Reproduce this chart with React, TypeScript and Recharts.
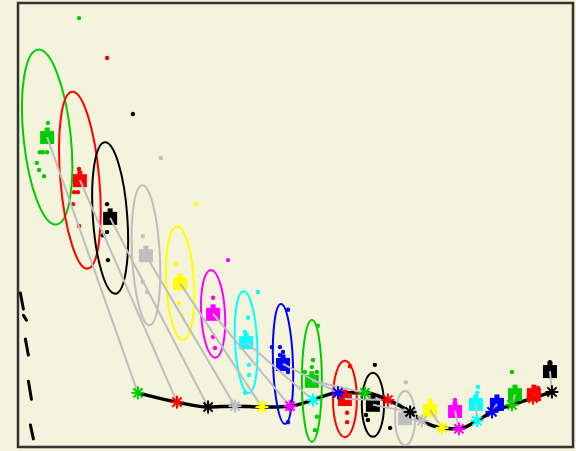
import { ComposedChart, XAxis, YAxis, Scatter, Line, ReferenceArea } from 'recharts';

// colours cycle green3, red, black, gray, yellow, magenta, cyan, blue
const PALETTE = ['#00cd00', '#ff0000', '#000000', '#bebebe', '#ffff00', '#ff00ff', '#00ffff', '#0000ff'];

// group means (the squares)
const meanX = [1.05, 2.23, 3.32, 4.61, 5.84, 7.03, 8.22, 9.55, 10.59, 11.78, 12.79, 13.95, 14.85, 15.75, 16.5, 17.26, 17.91, 18.59, 19.17];
const meanY = [69.8, 60.1, 51.6, 43.2, 36.9, 30.0, 23.6, 18.7, 14.9, 10.8, 9.5, 6.5, 8.3, 8.1, 9.7, 9.7, 11.9, 11.9, 17.1];

// fitted values on the black curve (the stars)
const fitX = [4.32, 5.73, 6.85, 7.82, 8.79, 9.8, 10.63, 11.53, 12.5, 13.33, 14.13, 14.56, 15.28, 15.89, 16.54, 17.08, 17.8, 18.56, 19.24];
const fitY = [12.2, 10.1, 9.0, 9.2, 9.0, 9.2, 10.6, 12.2, 12.2, 10.6, 7.9, 5.9, 4.3, 4.1, 5.9, 7.9, 9.5, 11.0, 12.4];

// spread ellipses (only the first 12 groups have one)
const spreadX = [0.85, 0.7, 0.62, 0.5, 0.5, 0.43, 0.4, 0.36, 0.36, 0.43, 0.4, 0.36];
const spreadY = [19.8, 20.0, 17.1, 15.8, 12.8, 9.9, 11.5, 13.5, 13.7, 8.6, 7.2, 6.1];
const tilt = [-6, -5, -4, -3, -3, -3, -3, -2, 0, 0, 0, 0];

// raw observations per group
const groupPoints: [number, number][][] = [
  [[2.2, 96.6], [1.08, 73.0], [0.79, 66.4], [0.9, 66.4], [1.05, 66.4], [0.68, 64.0], [0.76, 62.4], [0.94, 61.0]],
  [[3.21, 87.6], [2.2, 62.6], [2.02, 57.4], [2.16, 57.4], [1.98, 54.7], [2.2, 49.8]],
  [[4.14, 75.0], [3.21, 54.7], [3.21, 48.4], [3.06, 47.7], [3.24, 42.1]],
  [[5.15, 65.1], [4.5, 47.5], [4.5, 37.2], [4.65, 34.9]],
  [[6.41, 54.7], [5.69, 41.2], [5.8, 32.4], [5.91, 29.7]],
  [[7.57, 42.1], [7.03, 33.6], [7.03, 24.8], [7.1, 22.3]],
  [[8.65, 34.9], [8.29, 29.1], [8.18, 25.9], [8.32, 18.5], [8.32, 16.2], [8.18, 12.2]],
  [[9.73, 30.9], [9.15, 22.5], [9.44, 22.5], [9.55, 21.4], [9.44, 20.7], [9.73, 16.9], [9.73, 8.8], [9.73, 5.6]],
  [[10.81, 27.3], [10.63, 19.6], [10.59, 18.0], [10.34, 16.9], [10.77, 16.9], [10.7, 10.6], [10.77, 6.8], [10.7, 3.8]],
  [[11.96, 18.2], [11.5, 12.2], [11.86, 7.7], [11.86, 5.6]],
  [[12.86, 18.5], [12.54, 7.2], [12.61, 6.1], [13.41, 4.3]],
  [[13.98, 14.6], [13.87, 5.6]],
  [[14.85, 10.6]],
  [[15.75, 10.6]],
  [[16.58, 13.5], [16.54, 12.2]],
  [[17.08, 10.6]],
  [[17.8, 16.9]],
  [[18.74, 13.3]],
  [[19.17, 19.1]],
];

// clipped label fragments along the left edge
const edgeX = [0.14, 0.25, 0.32, 0.43, 0.5];
const edgeY = [32.9, 29.1, 22.5, 12.8, 3.4];
const edgeLen = [16, 5, 16, 18, 14];

const W = 576;
const H = 451;
const M = { top: 3, right: 3, bottom: 4, left: 18 };
const X_MAX = 20;
const Y_MAX = 100;
const PX_X = (W - M.left - M.right) / X_MAX;
const PX_Y = (H - M.top - M.bottom) / Y_MAX;

const colorOf = (i: number) => PALETTE[i % PALETTE.length];

const ellipses = spreadX.map((rx, i) => ({ x: meanX[i], y: meanY[i], rx, ry: spreadY[i], tilt: tilt[i], color: colorOf(i) }));
const means = meanX.map((x, i) => ({ x, y: meanY[i], color: colorOf(i) }));
const fits = fitX.map((x, i) => ({ x, y: fitY[i], color: colorOf(i) }));
const points = groupPoints.flatMap((g, i) => g.map(([x, y]) => ({ x, y, color: colorOf(i) })));
const edgeMarks = edgeX.map((x, i) => ({ x, y: edgeY[i], len: edgeLen[i] }));

const EllipseShape = (p: any) => {
  const { cx, cy, payload } = p;
  return (
    <ellipse
      cx={cx}
      cy={cy}
      rx={payload.rx * PX_X}
      ry={payload.ry * PX_Y}
      transform={`rotate(${payload.tilt} ${cx} ${cy})`}
      fill="none"
      stroke={payload.color}
      strokeWidth={2}
    />
  );
};

const DotShape = (p: any) => <circle cx={p.cx} cy={p.cy} r={2.2} fill={p.payload.color} />;

const SquareShape = (p: any) => (
  <g>
    <rect x={p.cx - 7} y={p.cy - 6} width={14} height={13} fill={p.payload.color} />
    <rect x={p.cx - 2.5} y={p.cy - 9.5} width={5} height={4} fill={p.payload.color} />
  </g>
);

const StarShape = (p: any) => {
  const { cx, cy } = p;
  const c = p.payload.color;
  const r = 6.5;
  const d = 4.6;
  return (
    <g stroke={c} strokeWidth={2}>
      <line x1={cx - r} y1={cy} x2={cx + r} y2={cy} />
      <line x1={cx} y1={cy - r} x2={cx} y2={cy + r} />
      <line x1={cx - d} y1={cy - d} x2={cx + d} y2={cy + d} />
      <line x1={cx - d} y1={cy + d} x2={cx + d} y2={cy - d} />
    </g>
  );
};

const EdgeShape = (p: any) => {
  const { cx, cy, payload } = p;
  const h = payload.len / 2;
  return <line x1={cx - 1.5} y1={cy - h} x2={cx + 1.5} y2={cy + h} stroke="#000" strokeWidth={3} strokeLinecap="round" />;
};

const Empty = () => <g />;

export default function App() {
  return (
    <div style={{ position: 'absolute', left: 0, top: 0, width: W, height: H, background: '#f4f3dc' }}>
      <ComposedChart width={W} height={H} margin={M}>
        <XAxis type="number" dataKey="x" domain={[0, X_MAX]} allowDataOverflow hide />
        <YAxis type="number" dataKey="y" domain={[0, Y_MAX]} allowDataOverflow hide />
        <Scatter data={edgeMarks} shape={EdgeShape} isAnimationActive={false} />
        <Scatter data={ellipses} shape={EllipseShape} isAnimationActive={false} />
        <Scatter data={points} shape={DotShape} isAnimationActive={false} />
        <Scatter data={means} shape={SquareShape} isAnimationActive={false} />
        {means.map((m, i) => (
          <Scatter
            key={`link-${i}`}
            data={[{ x: m.x, y: m.y }, { x: fitX[i], y: fitY[i] }]}
            line={{ stroke: '#bebebe', strokeWidth: 2 }}
            shape={Empty}
            isAnimationActive={false}
          />
        ))}
        <Line
          data={fits}
          dataKey="y"
          type="monotone"
          stroke="#000"
          strokeWidth={3.5}
          dot={false}
          isAnimationActive={false}
        />
        <Scatter data={fits} shape={StarShape} isAnimationActive={false} />
        <ReferenceArea x1={0} x2={X_MAX} y1={0} y2={Y_MAX} fill="none" stroke="#333" strokeWidth={2.5} fillOpacity={0} />
      </ComposedChart>
    </div>
  );
}
